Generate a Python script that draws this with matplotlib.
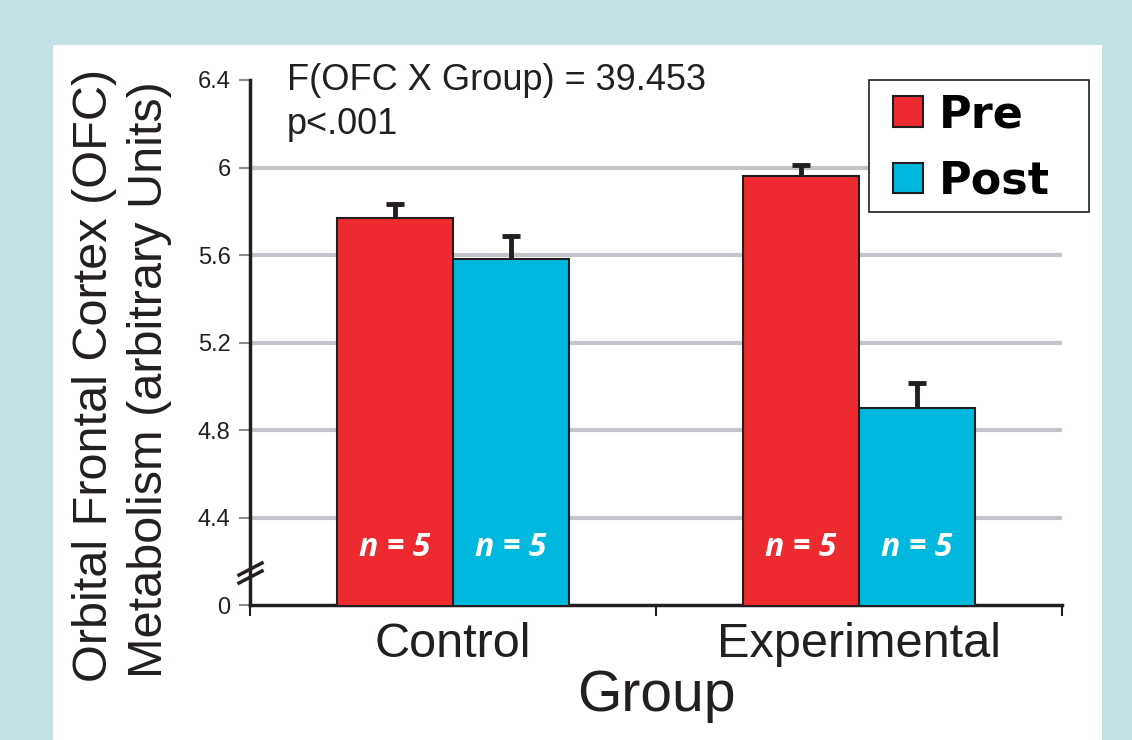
import matplotlib
matplotlib.use("Agg")
import matplotlib.pyplot as plt
from matplotlib.patches import Rectangle
from matplotlib.lines import Line2D
import numpy as np

# Data
groups = ["Control", "Experimental"]
series = ["Pre", "Post"]
pre_vals = [5.77, 5.96]
post_vals = [5.58, 4.90]
pre_err = [0.065, 0.05]
post_err = [0.105, 0.115]
n_labels = ["n = 5", "n = 5"]
ytick_vals = [4.0, 4.4, 4.8, 5.2, 5.6, 6.0, 6.4]
ytick_labels = ["0", "4.4", "4.8", "5.2", "5.6", "6", "6.4"]
grid_vals = [4.4, 4.8, 5.2, 5.6, 6.0]

RED = "#ec2a2f"
BLUE = "#00b8de"
DARK = "#231f20"
GRID = "#c3c5cb"
BG = "#c4e2e6"

plt.rcParams["font.family"] = ["Liberation Sans", "DejaVu Sans"]

W, H = 1132, 740
fig = plt.figure(figsize=(W / 100, H / 100), dpi=100, facecolor=BG)


def fx(px):
    return px / W


def fy(py):
    return (H - py) / H


# white panel
fig.patches.append(Rectangle((fx(53), 0), fx(1102) - fx(53), fy(45),
                             transform=fig.transFigure, facecolor="white",
                             edgecolor="none", zorder=-5))

ax = fig.add_axes([fx(250), fy(605), fx(1062) - fx(250), fy(80) - fy(605)])
ax.set_facecolor("none")
ax.set_zorder(1)

x = np.arange(len(groups))
bw = 0.286
cap = 0.022
for vals, errs, off, col, lab in ((pre_vals, pre_err, -bw / 2, RED, series[0]),
                                  (post_vals, post_err, bw / 2, BLUE, series[1])):
    xs = x + off
    ax.bar(xs, vals, bw, color=col, edgecolor=DARK, linewidth=1.5, zorder=3, label=lab)
    tops = np.array(vals) + np.array(errs)
    # upper-only error bars
    ax.vlines(xs, vals, tops, color=DARK, linewidth=3.5, zorder=4)
    ax.hlines(tops, xs - cap, xs + cap, color=DARK, linewidth=3.5, zorder=4)
    for xi, lab_n in zip(xs, n_labels):
        ax.text(xi, 4.265, lab_n, color="white", fontsize=23, fontweight="bold",
                fontstyle="italic", family=["Open Sans", "DejaVu Sans"],
                ha="center", va="center", zorder=5)

for g in grid_vals:
    ax.axhline(g, color=GRID, linewidth=3, zorder=1)

ax.set_xlim(-0.5, 1.5)
ax.set_ylim(4.0, 6.4)
ax.set_yticks(ytick_vals)
ax.set_yticklabels(ytick_labels, fontsize=17, color=DARK)
ax.tick_params(axis="y", direction="out", length=8, width=1.5, color="#8a8c90", pad=6)

ax.set_xticks(x)
ax.set_xticklabels(groups, fontsize=35, color=DARK)
ax.set_xticks([-0.5, 0.5, 1.5], minor=True)
ax.tick_params(axis="x", which="major", length=0, pad=12)
ax.tick_params(axis="x", which="minor", direction="out", length=8, width=1.5, color=DARK)

for s in ("top", "right"):
    ax.spines[s].set_visible(False)
for s in ("left", "bottom"):
    ax.spines[s].set_linewidth(2.5)
    ax.spines[s].set_color(DARK)

ax.set_xlabel("Group", fontsize=41, color=DARK, labelpad=2)

fig.text(fx(95), fy(375), "Orbital Frontal Cortex (OFC)", rotation=90, fontsize=35,
         ha="center", va="center", color=DARK)
fig.text(fx(150), fy(380), "Metabolism (arbitrary Units)", rotation=90, fontsize=35,
         ha="center", va="center", color=DARK)

fig.text(fx(287), fy(80), "F(OFC X Group) = 39.453", fontsize=26,
         ha="left", va="center", color=DARK)
fig.text(fx(287), fy(125), "p<.001", fontsize=26,
         ha="left", va="center", color=DARK)

# axis break marks
for yy in (569, 577):
    fig.lines.append(Line2D([fx(239), fx(262)], [fy(yy + 6), fy(yy - 6)],
                            transform=fig.transFigure, color=DARK, linewidth=2.5,
                            zorder=20))

# legend box
ax.add_patch(Rectangle((fx(869), fy(212)), fx(1089) - fx(869), fy(80) - fy(212),
                       transform=fig.transFigure, facecolor="white", edgecolor=DARK,
                       linewidth=1.2, clip_on=False, zorder=9))
leg = ax.legend(loc="upper left", bbox_to_anchor=(fx(893), fy(93)),
                bbox_transform=fig.transFigure,
                prop={"weight": "bold", "size": 32, "family": "DejaVu Sans"},
                frameon=False,
                handlelength=0.68, handleheight=0.68, handletextpad=0.36,
                borderpad=0, labelspacing=0.53, borderaxespad=0)
leg.set_zorder(10)
for h in leg.legend_handles:
    h.set_edgecolor(DARK)
    h.set_linewidth(1.5)

fig.savefig("out.png", dpi=100, facecolor=BG)
